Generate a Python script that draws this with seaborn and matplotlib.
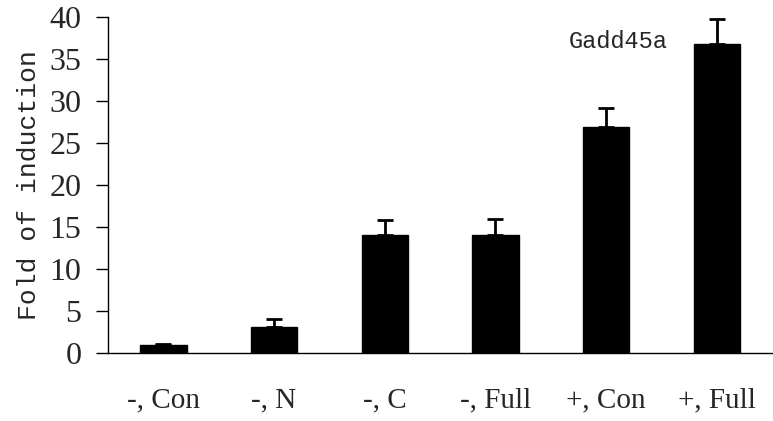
import numpy as np
import pandas as pd
import matplotlib
matplotlib.use("Agg")
import matplotlib.pyplot as plt
import seaborn as sns

# Datos
categorias = ["-, Con", "-, N", "-, C", "-, Full", "+, Con", "+, Full"]
valores = [1.0, 3.1, 14.0, 14.1, 26.9, 36.8]
errores = [0.05, 0.9, 1.8, 1.85, 2.3, 3.0]
ticks_y = [0, 5, 10, 15, 20, 25, 30, 35, 40]

sns.set_theme(style="white")
plt.rcParams['font.family'] = ['Liberation Serif', 'DejaVu Serif']

df = pd.DataFrame({"grupo": categorias, "fold": valores})

fig = plt.figure(figsize=(7.73, 4.21), dpi=100)
ax = fig.add_axes([108 / 773, 68 / 421, 1 - 108 / 773 - 0.001, (353 - 17) / 421])

sns.barplot(data=df, x="grupo", y="fold", color="black", width=0.42,
            edgecolor="black", linewidth=1, saturation=1, ax=ax)

pos = np.arange(len(categorias))
ax.errorbar(pos, valores, yerr=[np.zeros(len(errores)), errores], fmt="none",
            ecolor="black", elinewidth=2, capsize=6, capthick=2)

ax.set_xlim(-0.5, len(categorias) - 0.5)
ax.set_ylim(0, 40)
ax.set_yticks(ticks_y)
ax.set_yticklabels([str(t) for t in ticks_y], fontsize=23)
ax.set_xticks(pos)
ax.set_xticklabels(categorias, fontsize=21)
ax.tick_params(axis="x", which="major", length=0, pad=25)
ax.set_xticks(np.arange(-0.5, len(categorias)), minor=True)
ax.tick_params(axis="x", which="minor", direction="out", length=9, width=1, color="black")
ax.tick_params(axis="y", direction="out", length=9, width=1, color="black", left=True, pad=10)

ax.set_xlabel("")
ax.set_ylabel("Fold of induction", fontsize=19, family=["Liberation Mono", "DejaVu Sans Mono"],
              labelpad=6)

for lado in ["top", "right"]:
    ax.spines[lado].set_visible(False)
for lado in ["left", "bottom"]:
    ax.spines[lado].set_color("black")
    ax.spines[lado].set_linewidth(1)

ax.text(618, 421 - 42, "Gadd45a", transform=None, fontsize=17,
        family=["Liberation Mono", "DejaVu Sans Mono"], ha="center", va="center")

fig.savefig("out.png", dpi=100)
plt.close(fig)
